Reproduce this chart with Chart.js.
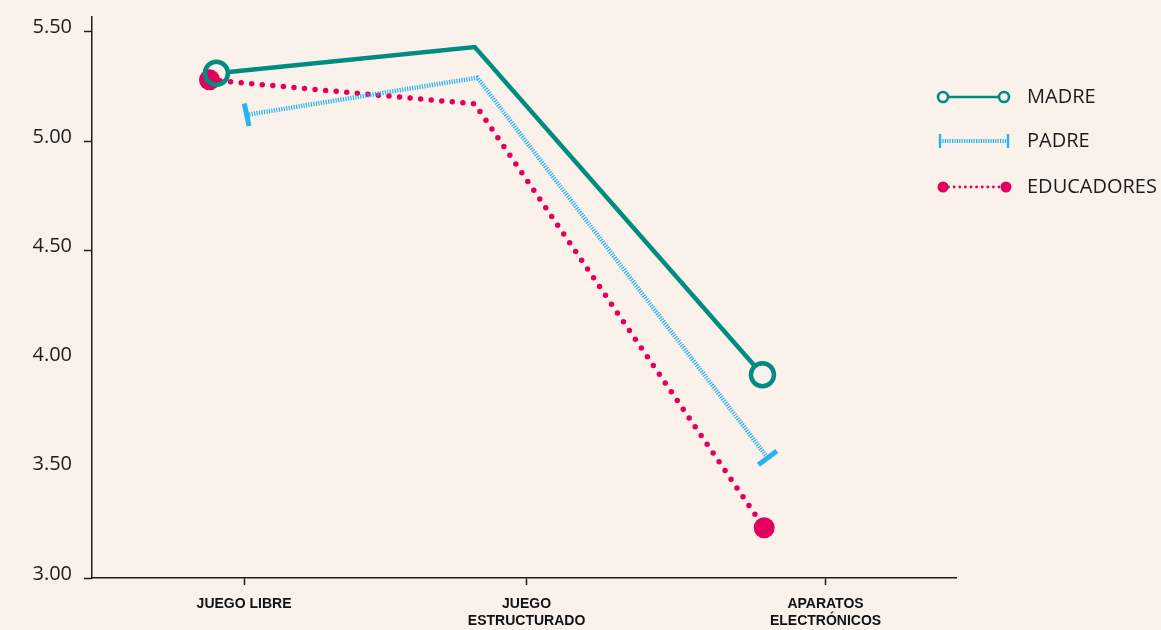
<!DOCTYPE html>
<html>
<head>
<meta charset="utf-8">
<script src="https://cdn.jsdelivr.net/npm/chart.js@4.4.1/dist/chart.umd.min.js"></script>
<style>
  html, body { margin: 0; padding: 0; background: #faf1eb; }
  #wrap { width: 1161px; height: 630px; }
</style>
</head>
<body>
<div id="wrap"><canvas id="chart" width="1161" height="630"></canvas></div>
<script>
// categories and where their tick sits on the x scale (0..100 across the plot)
const catLabels = ['JUEGO LIBRE', ['JUEGO', 'ESTRUCTURADO'], ['APARATOS', 'ELECTRÓNICOS']];
const catPos = [17.6, 50.3, 84.9];

// series values (x = position along the axis, y = score)
const madreX = [14.4, 44.3, 77.6];
const madreY = [5.31, 5.43, 3.93];
const padreX = [17.9, 44.6, 78.2];
const padreY = [5.12, 5.29, 3.55];
const educX = [13.6, 44.3, 77.8];
const educY = [5.28, 5.17, 3.23];

const yTicks = [3.0, 3.5, 4.0, 4.5, 5.0, 5.5];
const yTickMarks = [3.0, 4.5, 5.0, 5.5]; // the reference only marks these

const TEAL = '#008c83';
const BLUE = '#27b3f1';
const PINK = '#e2005c';
const INK = '#1c1c1c';
const BG = '#faf1eb';
const RING = 11.5;

const toPoints = (xs, ys) => xs.map((x, i) => ({x, y: ys[i]}));

const bgPlugin = {
    id: 'bg',
    beforeDraw(chart) {
        const c = chart.ctx;
        c.save();
        c.fillStyle = BG;
        c.fillRect(0, 0, chart.width, chart.height);
        c.restore();
    }
};

// keep the MADRE line out of its hollow end rings
const ringClip = {
    id: 'ringClip',
    beforeDatasetDraw(chart, args) {
        if (args.index !== 0) return;
        const c = chart.ctx;
        const pts = chart.getDatasetMeta(3).data;
        c.save();
        c.beginPath();
        c.rect(0, 0, chart.width, chart.height);
        [pts[0], pts[2]].forEach(p => {
            c.moveTo(p.x + RING, p.y);
            c.arc(p.x, p.y, RING, 0, Math.PI * 2);
        });
        c.clip('evenodd');
    },
    afterDatasetDraw(chart, args) {
        if (args.index !== 0) return;
        chart.ctx.restore();
    }
};

// legend drawn by hand so the samples look like the lines (with end markers)
const legendPlugin = {
    id: 'sideLegend',
    afterDraw(chart) {
        const c = chart.ctx;
        c.save();
        c.lineCap = 'butt';

        // MADRE
        let y = 97;
        c.strokeStyle = TEAL;
        c.lineWidth = 2.6;
        c.beginPath(); c.moveTo(943, y); c.lineTo(1004, y); c.stroke();
        [943, 1004].forEach(x => {
            c.beginPath(); c.arc(x, y, 5, 0, Math.PI * 2);
            c.fillStyle = BG; c.fill(); c.stroke();
        });

        // PADRE
        y = 141;
        c.strokeStyle = BLUE;
        c.lineWidth = 4;
        c.setLineDash([1.2, 1.2]);
        c.beginPath(); c.moveTo(940, y); c.lineTo(1008, y); c.stroke();
        c.setLineDash([]);
        c.lineWidth = 2.4;
        [940, 1008].forEach(x => {
            c.beginPath(); c.moveTo(x, y - 7); c.lineTo(x, y + 7); c.stroke();
        });

        // EDUCADORES
        y = 187;
        c.strokeStyle = PINK;
        c.fillStyle = PINK;
        c.lineWidth = 2.8;
        c.lineCap = 'round';
        c.setLineDash([0, 5.6]);
        c.beginPath(); c.moveTo(943, y); c.lineTo(1006, y); c.stroke();
        c.setLineDash([]);
        [943, 1006].forEach(x => {
            c.beginPath(); c.arc(x, y, 5.5, 0, Math.PI * 2); c.fill();
        });

        c.fillStyle = INK;
        c.font = '20px "Open Sans"';
        c.textBaseline = 'middle';
        c.textAlign = 'left';
        c.fillText('MADRE', 1027, 97);
        c.fillText('PADRE', 1027, 141);
        c.fillText('EDUCADORES', 1027, 187);
        c.restore();
    }
};

const chart = new Chart(document.getElementById('chart'), {
    type: 'line',
    data: {
        datasets: [
            {
                label: 'MADRE',
                data: toPoints(madreX, madreY),
                borderColor: TEAL,
                borderWidth: 4.5,
                pointRadius: 0,
                tension: 0,
                order: 0,
            },
            {
                label: 'PADRE',
                data: toPoints(padreX, padreY),
                borderColor: BLUE,
                borderWidth: 4.5,
                borderDash: [1.2, 1.3],
                pointStyle: 'line',
                pointRadius: [11.5, 0, 11.5],
                pointBorderWidth: 5,
                pointBorderColor: BLUE,
                pointRotation: [78, 0, -37],
                tension: 0,
                order: 1,
            },
            {
                label: 'EDUCADORES',
                data: toPoints(educX, educY),
                borderColor: PINK,
                borderWidth: 5.5,
                borderDash: [0, 10.6],
                borderCapStyle: 'round',
                pointStyle: 'circle',
                pointRadius: [10.5, 0, 10.5],
                pointBorderWidth: 0,
                pointBackgroundColor: PINK,
                tension: 0,
                order: 2,
            },
            {
                // MADRE end rings, same values, drawn on top
                label: 'MADRE rings',
                data: toPoints(madreX, madreY),
                showLine: false,
                pointStyle: 'circle',
                pointRadius: [RING, 0, RING],
                pointBorderWidth: 4.5,
                pointBorderColor: TEAL,
                pointBackgroundColor: 'rgba(0,0,0,0)',
                order: -1,
            }
        ]
    },
    options: {
        responsive: false,
        animation: false,
        devicePixelRatio: 1,
        layout: {padding: {top: 15, right: 205, left: 0, bottom: 0}},
        plugins: {
            legend: {display: false},
            tooltip: {enabled: false},
        },
        scales: {
            x: {
                type: 'linear',
                min: 0,
                max: 100,
                afterBuildTicks: scale => {
                    scale.ticks = catPos.map(v => ({value: v}));
                },
                afterFit: scale => {
                    scale.height = 52;
                    scale.paddingLeft = 0;
                    scale.paddingRight = 0;
                },
                grid: {
                    drawOnChartArea: false,
                    drawTicks: true,
                    tickLength: 7,
                    tickWidth: 1.5,
                    color: INK,
                },
                border: {display: true, color: INK, width: 1.5},
                ticks: {
                    autoSkip: false,
                    maxRotation: 0,
                    padding: 11,
                    color: '#111',
                    font: {family: '"Liberation Sans Narrow", "Liberation Sans", sans-serif', size: 14, weight: 'bold', lineHeight: 1.2},
                    callback: (value, index) => catLabels[index],
                }
            },
            y: {
                min: 3,
                max: 5.57,
                afterBuildTicks: scale => {
                    scale.ticks = yTicks.map(v => ({value: v}));
                },
                afterFit: scale => {
                    scale.width = 92;
                    scale.paddingTop = 0;
                    scale.paddingBottom = 0;
                },
                grid: {
                    drawOnChartArea: false,
                    drawTicks: true,
                    tickLength: 8,
                    tickWidth: 1.5,
                    color: ctx => (ctx.tick && yTickMarks.includes(ctx.tick.value)) ? INK : 'rgba(0,0,0,0)',
                },
                border: {display: true, color: INK, width: 1.5},
                ticks: {
                    padding: 12,
                    labelOffset: -4,
                    color: INK,
                    font: {family: '"Open Sans", sans-serif', size: 20},
                    callback: v => v.toFixed(2),
                }
            }
        }
    },
    plugins: [bgPlugin, ringClip, legendPlugin]
});
</script>
</body>
</html>
